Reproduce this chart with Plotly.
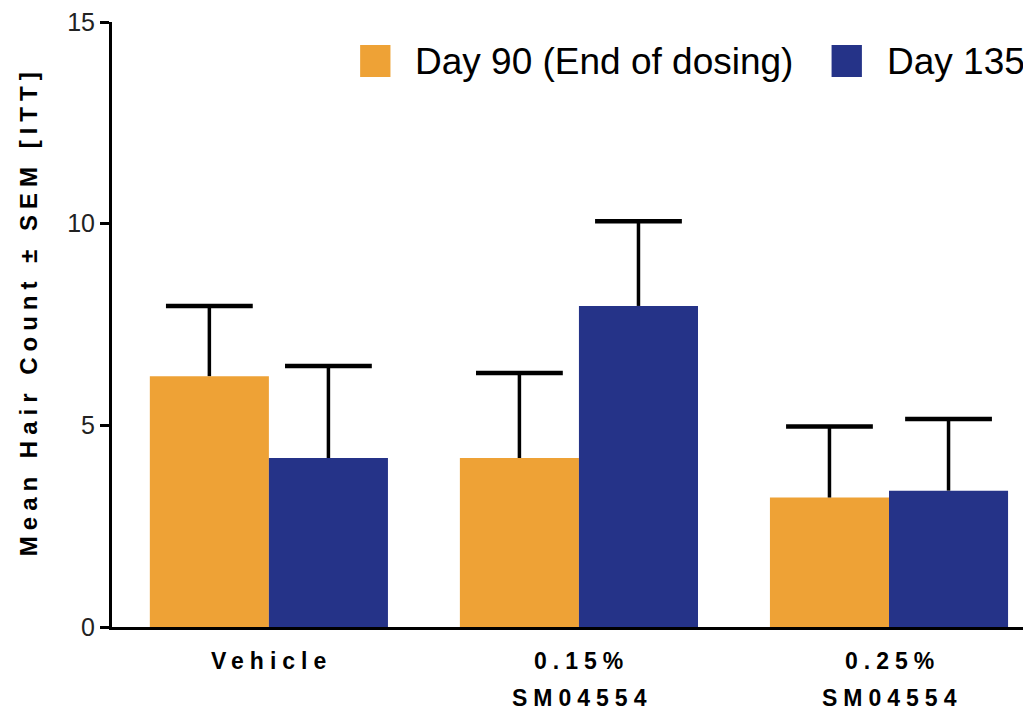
import plotly.graph_objects as go

categories = ["Vehicle", "0.15% SM04554", "0.25% SM04554"]
label_line1 = ["Vehicle", "0.15%", "0.25%"]
label_line2 = ["", "SM04554", "SM04554"]
series_names = ["Day 90 (End of dosing)", "Day 135"]
day90 = [6.22, 4.19, 3.21]
day90_sem = [1.74, 2.11, 1.76]
day135 = [4.19, 7.96, 3.38]
day135_sem = [2.28, 2.10, 1.78]
colors = ["#EEA236", "#253388"]
y_ticks = [0, 5, 10, 15]

BARGAP = 0.232
bar_w = (1 - BARGAP) / 2
offsets = [-bar_w / 2, bar_w / 2]
xpos = list(range(len(categories)))

FONT = "Liberation Sans, Arial"

fig = go.Figure()
for k, (name, vals, sem, col) in enumerate([(series_names[0], day90, day90_sem, colors[0]),
                                            (series_names[1], day135, day135_sem, colors[1])]):
    fig.add_trace(go.Bar(
        x=xpos, y=vals, name=name, marker=dict(color=col, line=dict(width=0)),
        error_y=dict(type="data", array=sem, arrayminus=[0] * len(sem), symmetric=False,
                     color="black", thickness=3.5, width=0),
        showlegend=False,
    ))
for k, (vals, sem) in enumerate([(day90, day90_sem), (day135, day135_sem)]):
    fig.add_trace(go.Scatter(
        x=[i + offsets[k] for i in xpos], y=[v + s for v, s in zip(vals, sem)],
        mode="markers", marker=dict(symbol="line-ew", size=62, line=dict(color="black", width=4.5)),
        showlegend=False, hoverinfo="skip",
    ))

# manual legend (large swatches)
leg_x = [0.270, 0.783]
for i, (name, col) in enumerate(zip(series_names, colors)):
    fig.add_shape(type="rect", xref="paper", yref="paper",
                  x0=leg_x[i], x1=leg_x[i] + 0.033, y0=0.909, y1=0.962,
                  fillcolor=col, line=dict(width=0))
    fig.add_annotation(xref="paper", yref="paper", x=leg_x[i] + 0.058, y=0.935,
                       text=name, showarrow=False, xanchor="left", yanchor="middle",
                       font=dict(family=FONT, size=37, color="black"))

# category labels (two lines)
span = "<span style='letter-spacing:6px'><b>{}</b></span>"
for x, l1, l2 in zip(xpos, label_line1, label_line2):
    fig.add_annotation(x=x, xref="x", yref="paper", y=0, yshift=-34, xshift=3, text=span.format(l1),
                       showarrow=False, yanchor="middle",
                       font=dict(family=FONT, size=23, color="black"))
    if l2:
        fig.add_annotation(x=x, xref="x", yref="paper", y=0, yshift=-71, xshift=3, text=span.format(l2),
                           showarrow=False, yanchor="middle",
                           font=dict(family=FONT, size=23, color="black"))

# y-axis title
fig.add_annotation(xref="paper", yref="paper", x=-0.0914, y=0.522, textangle=-90,
                   text="<span style='letter-spacing:6px'><b>Mean Hair Count ± SEM [ITT]</b></span>",
                   showarrow=False, xanchor="center", yanchor="middle",
                   font=dict(family=FONT, size=24, color="black"))

fig.update_layout(
    width=1023, height=705,
    margin=dict(l=104, r=0, t=12, b=86),
    plot_bgcolor="white", paper_bgcolor="white",
    barmode="group", bargap=BARGAP, bargroupgap=0,
    font=dict(family=FONT, color="black"),
)
fig.update_xaxes(
    range=[-0.506, 2.458], showline=True, linecolor="black", linewidth=3,
    showticklabels=False, ticks="", showgrid=False, zeroline=False,
)
fig.update_yaxes(
    range=[0, 15], tickvals=y_ticks, showline=True, linecolor="black", linewidth=3,
    ticks="outside", ticklen=9, tickwidth=3, tickcolor="black", showgrid=False, zeroline=False,
    ticklabeloverflow="allow",
    tickfont=dict(family=FONT, size=25, color="#222"),
)

fig.write_html("out.html")
